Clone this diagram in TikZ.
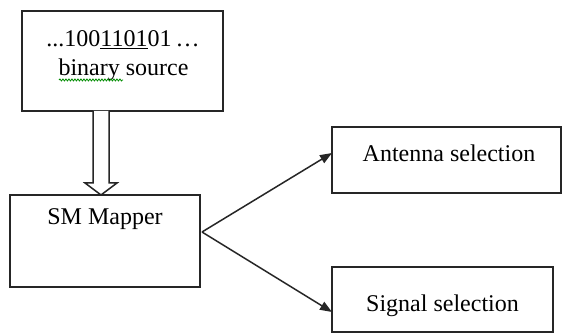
\documentclass[tikz,border=0pt]{standalone}
\usepackage{fontspec}
\setmainfont{Liberation Serif}
\usetikzlibrary{arrows.meta,calc,decorations.pathmorphing}
\begin{document}
\begin{tikzpicture}[x=1pt,y=-1pt,
  box/.style={draw=black!85,line width=1.8pt,rectangle,inner sep=0pt,outer sep=0pt},
  txt/.style={anchor=base,inner sep=0pt,font=\fontsize{24}{28}\selectfont},
  conn/.style={line width=1.5pt,draw=black!85,-{Triangle[length=12pt,width=9pt]}}]
\useasboundingbox (0,0) rectangle (562,336);
\fill[white] (0,0) rectangle (562,336);
% boxes
\node[box,minimum width=201pt,minimum height=100pt] (src) at (122.5,61) {};
\node[box,minimum width=190pt,minimum height=92pt] (map) at (105,241) {};
\node[box,minimum width=229pt,minimum height=66pt] (ant) at (446.5,160) {};
\node[box,minimum width=221pt,minimum height=65pt] (sig) at (442.5,299.5) {};
% texts
\node[txt] (t1) at (123,47) {...100\underline{1101}01\,…};
\node[txt] (t2) at (123.5,76) {binary source};
\draw[green!55!black,line width=0.8pt,decorate,decoration={snake,amplitude=1pt,segment length=3pt}]
  (59,80) -- (123,80);
\node[txt] (t3) at (105,225) {SM Mapper};
\node[txt] (t4) at (449,162) {Antenna selection};
\node[txt] (t5) at (442.5,312) {Signal selection};
% hollow arrow from source to mapper
\coordinate (hs) at ($(src.south)+(-21.5,0)$);
\coordinate (ht) at ($(map.north)+(-4,0)$);
\draw[line width=1.5pt,draw=black!85,fill=white,line join=miter]
  ($(hs)+(-8,0)$) -- ($(ht)+(-8,-12)$) -- ($(ht)+(-16,-12)$) -- (ht)
  -- ($(ht)+(16,-12)$) -- ($(ht)+(8,-12)$) -- ($(hs)+(8,0)$);
% connectors
\coordinate (fork) at ($(map.east)+(2,-9)$);
\draw[conn] (fork) -- ($(ant.west)+(0,-7)$);
\draw[conn] (fork) -- ($(sig.west)+(0,12.5)$);
\end{tikzpicture}
\end{document}
